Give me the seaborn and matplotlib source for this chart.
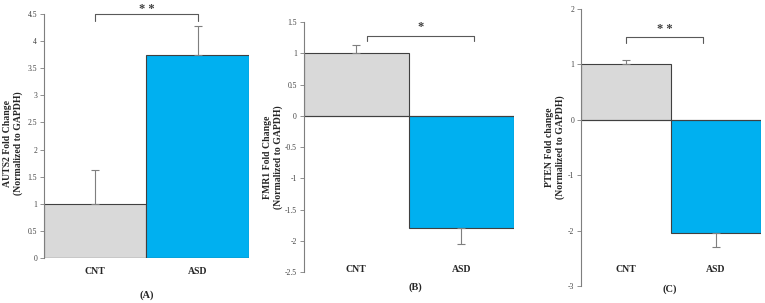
import seaborn as sns
import matplotlib.pyplot as plt
import pandas as pd
from matplotlib.ticker import FuncFormatter

# data
groups = ['CNT', 'ASD']
auts2_vals = [1.0, 3.75]
auts2_err = [0.62, 0.53]
fmr1_vals = [1.0, -1.8]
fmr1_err = [0.14, 0.25]
pten_vals = [1.0, -2.05]
pten_err = [0.08, 0.25]
stars = ['* *', '*', '* *']
ylabels = ['AUTS2 Fold Change\n(Normalized to GAPDH)',
           'FMR1 Fold Change\n(Normalized to GAPDH)',
           'PTEN Fold change\n(Normalized to GAPDH)']
panel_tags = ['(A)', '(B)', '(C)']

sns.set_style('white')
plt.rcParams['font.family'] = ['Liberation Serif', 'DejaVu Serif']

palette = ['#d9d9d9', '#00b0f0']
fig = plt.figure(figsize=(7.65, 3.03), dpi=100)

# per panel layout: axes rect, y limits, tick step, bracket, label pads
panels = [
    dict(rect=[0.0575, 0.1485, 0.268, 0.805], ylim=(0, 4.5), step=0.5,
         br=(0.0, 1.0, 4.5, 4.38), star_y=4.6, pad=6.5,
         ylab_xy=(13, 143), tag_xy=(147, 295)),
    dict(rect=[0.397, 0.102, 0.275, 0.825], ylim=(-2.5, 1.5), step=0.5,
         br=(0.1, 1.12, 1.28, 1.19), star_y=1.42, pad=-5,
         ylab_xy=(273, 157), tag_xy=(415, 287)),
    dict(rect=[0.7595, 0.056, 0.235, 0.914], ylim=(-3, 2), step=1,
         br=(0.0, 0.86, 1.49, 1.38), star_y=1.64, pad=-15,
         ylab_xy=(555, 147), tag_xy=(670, 289)),
]
series = [(auts2_vals, auts2_err), (fmr1_vals, fmr1_err), (pten_vals, pten_err)]

for i, (p, (vals, errs)) in enumerate(zip(panels, series)):
    ax = fig.add_axes(p['rect'])
    df = pd.DataFrame({'Group': groups, 'Value': vals})
    sns.barplot(data=df, x='Group', y='Value', hue='Group', palette=palette,
                width=1.0, saturation=1, edgecolor='#404040', linewidth=0.8,
                legend=False, errorbar=None, ax=ax)
    # one-sided error bars, away from zero
    for j, (v, e) in enumerate(zip(vals, errs)):
        yerr = [[0], [e]] if v >= 0 else [[e], [0]]
        ax.errorbar(j, v, yerr=yerr, fmt='none', ecolor='#7f7f7f',
                    elinewidth=0.8, capsize=3, capthick=0.8)
    ax.axhline(0, color='#404040', lw=0.8)
    ax.set_xlim(-0.5, 1.5)
    lo, hi = p['ylim']
    ax.set_ylim(lo, hi)
    n = int(round((hi - lo) / p['step']))
    ax.set_yticks([lo + k * p['step'] for k in range(n + 1)])
    ax.yaxis.set_major_formatter(FuncFormatter(lambda v, _: f'{v:g}'))
    ax.tick_params(axis='y', length=3, width=0.6, color='#7f7f7f',
                   labelsize=5.5, labelcolor='#404040', left=True, pad=2)
    ax.tick_params(axis='x', length=0, pad=p['pad'], labelsize=7)
    for t in ax.get_xticklabels():
        t.set_fontweight('bold')
        t.set_color('#262626')
    sns.despine(ax=ax, bottom=True)
    ax.spines['left'].set_color('#7f7f7f')
    ax.spines['left'].set_linewidth(0.8)
    ax.set_xlabel('')
    ax.set_ylabel('')
    # significance bracket
    x0, x1, ytop, ybot = p['br']
    ax.plot([x0, x0, x1, x1], [ybot, ytop, ytop, ybot], color='#595959',
            lw=0.8, clip_on=False)
    ax.text((x0 + x1) / 2, p['star_y'], stars[i], ha='center', va='center',
            fontsize=9, fontweight='bold', color='#404040')
    # y label and panel tag in figure pixels
    lx, ly = p['ylab_xy']
    fig.text(lx / 765, 1 - ly / 303, ylabels[i], rotation=90,
             ha='center', va='center', fontsize=7, fontweight='bold',
             color='#262626', linespacing=1.1)
    tx, ty = p['tag_xy']
    fig.text(tx / 765, 1 - ty / 303, panel_tags[i], ha='center', va='center',
             fontsize=7.5, fontweight='bold', color='#262626')

fig.savefig('out.png', dpi=100)
